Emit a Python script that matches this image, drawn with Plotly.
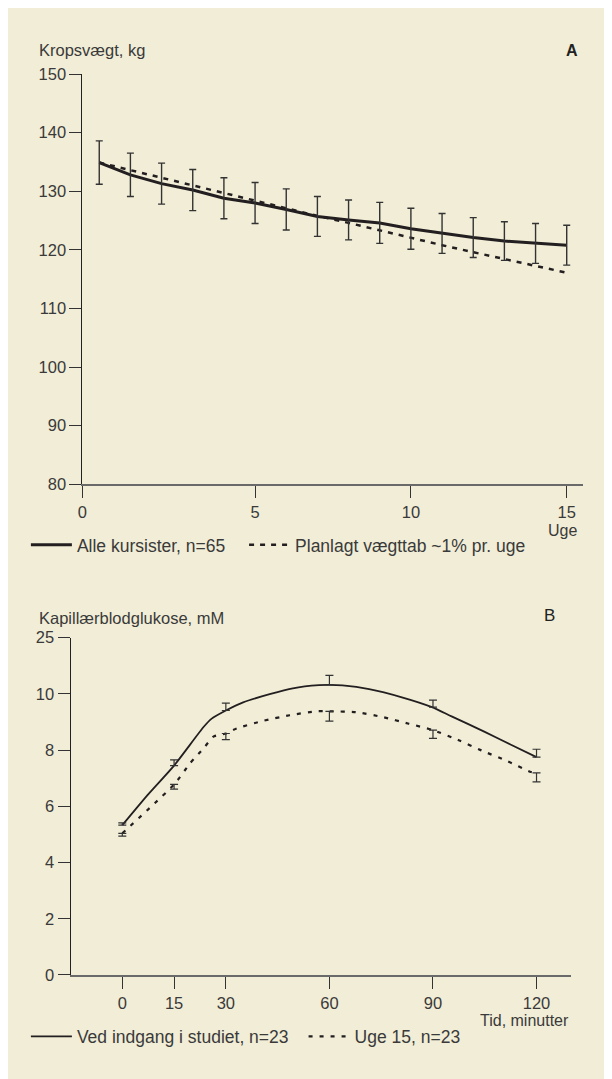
import plotly.graph_objects as go

# ---------------- Panel A data ----------------
weeks = list(range(16))
weight_mean = [134.9, 132.8, 131.3, 130.2, 128.8, 128.0, 126.9, 125.7,
               125.1, 124.6, 123.6, 122.8, 122.1, 121.5, 121.1, 120.8]
weight_sd = [3.7, 3.7, 3.5, 3.5, 3.5, 3.5, 3.5, 3.4,
             3.4, 3.5, 3.5, 3.4, 3.4, 3.3, 3.4, 3.4]
weight_planned = [134.9, 133.6, 132.3, 130.9, 129.6, 128.3, 127.1, 125.8,
                  124.6, 123.3, 122.0, 120.8, 119.6, 118.4, 117.3, 116.1]
a_xtick_vals = [-0.54, 5, 10, 15]
a_xtick_text = ["0", "5", "10", "15"]
a_ytick_vals = [80, 90, 100, 110, 120, 130, 140, 150]

# ---------------- Panel B data ----------------
meas_t = [0, 15, 30, 60, 90, 120]
base_meas = [5.33, 7.45, 9.41, 10.32, 9.53, 7.75]
base_err = [0.08, 0.20, 0.26, 0.34, 0.25, 0.28]
wk15_meas = [5.04, 6.78, 8.59, 9.38, 8.71, 7.19]
wk15_err = [0.10, 0.17, 0.22, 0.35, 0.29, 0.32]

base_curve_t = [0, 7.3, 15, 23.6, 25.9, 30, 35, 42.7, 49.4, 57, 60, 63.8,
                71.5, 81, 89.7, 95.4, 105, 112.6, 120]
base_curve_v = [5.33, 6.40, 7.45, 8.83, 9.12, 9.41, 9.70, 9.99, 10.20, 10.31,
                10.32, 10.30, 10.17, 9.88, 9.53, 9.20, 8.65, 8.19, 7.75]
wk15_curve_t = [0, 15, 19.7, 23.6, 26.4, 30, 33.1, 40.8, 48.5, 56.1, 60, 67.6,
                75.3, 83, 90, 97.3, 104, 111.7, 118.4, 120]
wk15_curve_v = [5.04, 6.78, 7.54, 8.07, 8.48, 8.59, 8.77, 9.04, 9.24, 9.38,
                9.38, 9.35, 9.18, 8.94, 8.71, 8.36, 7.99, 7.60, 7.22, 7.19]
b_xtick_vals = [0, 15, 30, 60, 90, 120]
b_ytick_vals = [0, 2, 4, 6, 8, 10, 12]
b_ytick_text = ["0", "2", "4", "6", "8", "10", "25"]

# ---------------- styling ----------------
OFF = 8                      # browser body margin
W, H = 604, 1071
BG = "#f1edd6"
INK = "#231f20"
TXT = "#3a3a3a"
FONT = "Liberation Sans, Arial, sans-serif"


def px(x):
    return (x - OFF) / W


def py(y):
    return 1 - (y - OFF) / H


fig = go.Figure()

# Panel A
fig.add_trace(go.Scatter(
    x=weeks, y=weight_mean, mode="lines", name="Alle kursister, n=65",
    line=dict(color=INK, width=3),
    xaxis="x", yaxis="y", legend="legend"))
fig.add_trace(go.Scatter(
    x=weeks, y=weight_planned, mode="lines", name="Planlagt vægttab ~1% pr. uge",
    line=dict(color=INK, width=2.5, dash="5px,6px"),
    xaxis="x", yaxis="y", legend="legend2"))
fig.add_trace(go.Scatter(
    x=weeks, y=weight_mean, mode="markers", showlegend=False,
    marker=dict(size=1, color="rgba(0,0,0,0)"),
    error_y=dict(type="data", array=weight_sd, visible=True,
                 color="#333333", thickness=1.4, width=3.5),
    xaxis="x", yaxis="y", hoverinfo="skip"))

# Panel B
fig.add_trace(go.Scatter(
    x=base_curve_t, y=base_curve_v, mode="lines", name="Ved indgang i studiet, n=23",
    line=dict(color=INK, width=1.8, shape="spline", smoothing=0.6),
    xaxis="x2", yaxis="y2", legend="legend3"))
fig.add_trace(go.Scatter(
    x=wk15_curve_t, y=wk15_curve_v, mode="lines", name="Uge 15, n=23",
    line=dict(color=INK, width=2.2, dash="4px,7px", shape="spline", smoothing=0.6),
    xaxis="x2", yaxis="y2", legend="legend4"))
fig.add_trace(go.Scatter(
    x=meas_t, y=base_meas, mode="markers", showlegend=False,
    marker=dict(size=1, color="rgba(0,0,0,0)"),
    error_y=dict(type="data", symmetric=False, array=base_err,
                 arrayminus=[0] * len(base_err), visible=True,
                 color="#333333", thickness=1.2, width=4),
    xaxis="x2", yaxis="y2", hoverinfo="skip"))
fig.add_trace(go.Scatter(
    x=meas_t, y=wk15_meas, mode="markers", showlegend=False,
    marker=dict(size=1, color="rgba(0,0,0,0)"),
    error_y=dict(type="data", symmetric=False, array=[0] * len(wk15_err),
                 arrayminus=wk15_err, visible=True,
                 color="#333333", thickness=1.2, width=4),
    xaxis="x2", yaxis="y2", hoverinfo="skip"))

axis_common = dict(showgrid=False, zeroline=False, showline=True,
                   ticks="outside", ticklen=12, tickwidth=1, tickcolor="#333333",
                   tickfont=dict(family=FONT, size=16.5, color=TXT))


def leg(xpix, ypix):
    return dict(orientation="h", x=px(xpix), xanchor="left", y=py(ypix), yanchor="middle",
                bgcolor="rgba(0,0,0,0)", borderwidth=0, itemwidth=41,
                font=dict(family=FONT, size=17.5, color=TXT))


fig.update_layout(
    width=W, height=H,
    margin=dict(l=0, r=0, t=0, b=0),
    paper_bgcolor=BG, plot_bgcolor="rgba(0,0,0,0)",
    font=dict(family=FONT, size=16, color=TXT),
    xaxis=dict(axis_common, domain=[px(78), px(583)], range=[-0.54, 15.53],
               tickmode="array", tickvals=a_xtick_vals, ticktext=a_xtick_text,
               linecolor="#6a6a6a", linewidth=1.6, anchor="y"),
    yaxis=dict(axis_common, domain=[py(483.3), py(66)], range=[80, 150],
               tickmode="array", tickvals=a_ytick_vals,
               linecolor="#222222", linewidth=1, anchor="x"),
    xaxis2=dict(axis_common, domain=[px(66), px(570.7)], range=[-15, 130],
                tickmode="array", tickvals=b_xtick_vals,
                linecolor="#6a6a6a", linewidth=1.6, anchor="y2"),
    yaxis2=dict(axis_common, domain=[py(982.3), py(639.3)], range=[0, 12],
                tickmode="array", tickvals=b_ytick_vals, ticktext=b_ytick_text,
                linecolor="#222222", linewidth=1, anchor="x2"),
    legend=leg(21, 545),
    legend2=leg(241, 545),
    legend3=leg(21, 1045),
    legend4=leg(301, 1045),
    annotations=[
        dict(text="Kropsvægt, kg", x=px(32), y=py(42), xref="paper", yref="paper",
             xanchor="left", yanchor="middle", showarrow=False,
             font=dict(family=FONT, size=16.5, color=TXT)),
        dict(text="<b>A</b>", x=px(572), y=py(42), xref="paper", yref="paper",
             xanchor="center", yanchor="middle", showarrow=False,
             font=dict(family=FONT, size=16, color="#222222")),
        dict(text="Uge", x=px(579), y=py(530), xref="paper", yref="paper",
             xanchor="right", yanchor="middle", showarrow=False,
             font=dict(family=FONT, size=16, color=TXT)),
        dict(text="Kapillærblodglukose, mM", x=px(32), y=py(619), xref="paper", yref="paper",
             xanchor="left", yanchor="middle", showarrow=False,
             font=dict(family=FONT, size=16.5, color=TXT)),
        dict(text="B", x=px(549), y=py(617), xref="paper", yref="paper",
             xanchor="center", yanchor="middle", showarrow=False,
             font=dict(family=FONT, size=17, color="#222222")),
        dict(text="Tid, minutter", x=px(571), y=py(1029), xref="paper", yref="paper",
             xanchor="right", yanchor="middle", showarrow=False,
             font=dict(family=FONT, size=16, color=TXT)),
    ],
)

fig.write_html("out.html")
